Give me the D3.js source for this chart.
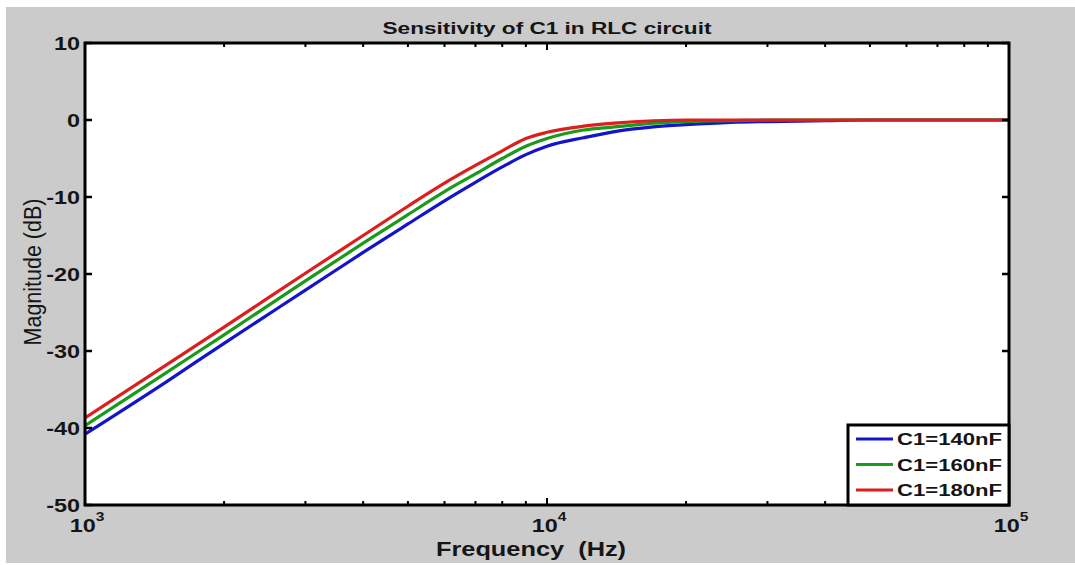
<!DOCTYPE html>
<html><head><meta charset="utf-8">
<script src="https://cdn.jsdelivr.net/npm/d3@7/dist/d3.min.js"></script>
<style>body{margin:0;background:#fff}svg{display:block}</style>
</head><body>
<svg id="c" width="1075" height="565"></svg>
<script>
const freqs = [1000,1500,2000,3000,4000,5000,6000,7000,8000,9000,10000,12000,14000,17000,20000,25000,30000,40000,50000,70000,100000];
const c140 = [-40.8,-34.0,-29.0,-22.1,-17.2,-13.5,-10.5,-8.1,-6.1,-4.5,-3.4,-2.3,-1.5,-0.9,-0.6,-0.3,-0.2,-0.1,0,0,0];
const c160 = [-39.7,-32.8,-27.9,-20.9,-16.0,-12.3,-9.3,-7.0,-5.0,-3.4,-2.4,-1.3,-0.9,-0.4,-0.2,-0.1,0,0,0,0,0];
const c180 = [-38.7,-31.8,-26.9,-19.9,-15.0,-11.2,-8.2,-5.9,-4.0,-2.4,-1.6,-0.8,-0.4,-0.1,0,0,0,0,0,0,0];
const seriesNames = ["C1=140nF","C1=160nF","C1=180nF"];
const seriesColors = ["#1414c8","#1a9a1a","#dc1e1e"];
const yTicks = [10,0,-10,-20,-30,-40,-50];
const xMajor = [3,4,5];
const title = "Sensitivity of C1 in RLC circuit";
const xLabel = "Frequency  (Hz)";
const yLabel = "Magnitude (dB)";

const svg = d3.select("#c");
const L=85,R=1009,T=43,B=505;
const SX=1.3;
const font = "'Liberation Sans', Arial, sans-serif";
svg.append("rect").attr("x",6).attr("y",7).attr("width",1069).attr("height",556).attr("fill","#cbcbcb");
svg.append("rect").attr("x",L).attr("y",T).attr("width",R-L).attr("height",B-T).attr("fill","#fff");

const x = d3.scaleLog().domain([1e3,1e5]).range([L,R]);
const y = d3.scaleLinear().domain([-50,10]).range([B,T]);

function txt(px,py,size,anchor,bold,extra,sx){
  return svg.append("text").attr("transform",`translate(${px},${py}) scale(${sx||SX},1)${extra||""}`)
    .attr("text-anchor",anchor).attr("font-family",font).attr("font-weight",bold?"bold":"normal")
    .attr("font-size",size).attr("fill","#151515");
}

const series = [c140,c160,c180];
const line = d3.line().x((d,i)=>x(freqs[i])).y(d=>y(d)).curve(d3.curveMonotoneX);
const g = svg.append("g");
g.append("clipPath").attr("id","clp").append("rect").attr("x",L).attr("y",T).attr("width",R-L).attr("height",B-T);
series.forEach((s,k)=>{
  g.append("path").datum(s).attr("d",line).attr("fill","none").attr("stroke",seriesColors[k]).attr("stroke-width",3.2).attr("clip-path","url(#clp)");
});

// ticks
const minor = [];
for (let e=3;e<5;e++) for (let m=2;m<=9;m++) minor.push(m*Math.pow(10,e));
const tk = svg.append("g").attr("stroke","#000");
minor.forEach(f=>{
  tk.append("line").attr("x1",x(f)).attr("x2",x(f)).attr("y1",B).attr("y2",B-4).attr("stroke-width",2);
  tk.append("line").attr("x1",x(f)).attr("x2",x(f)).attr("y1",T).attr("y2",T+4).attr("stroke-width",2);
});
xMajor.forEach(e=>{
  const f=Math.pow(10,e);
  tk.append("line").attr("x1",x(f)).attr("x2",x(f)).attr("y1",B).attr("y2",B-7).attr("stroke-width",2);
  tk.append("line").attr("x1",x(f)).attr("x2",x(f)).attr("y1",T).attr("y2",T+7).attr("stroke-width",2);
});
yTicks.forEach(v=>{
  tk.append("line").attr("x1",L).attr("x2",L+7).attr("y1",y(v)).attr("y2",y(v)).attr("stroke-width",2.5);
  tk.append("line").attr("x1",R).attr("x2",R-7).attr("y1",y(v)).attr("y2",y(v)).attr("stroke-width",2.5);
});
svg.append("rect").attr("x",L).attr("y",T).attr("width",R-L).attr("height",B-T).attr("fill","none").attr("stroke","#000").attr("stroke-width",3);

// y tick labels
yTicks.forEach(v=>{ txt(L-5,y(v)+6.5,18,"end",true).text(v); });
// x tick labels
xMajor.forEach(e=>{
  const t = txt(x(Math.pow(10,e))+2,532,18,"middle",true);
  t.append("tspan").text("10");
  t.append("tspan").attr("dy",-11).attr("font-size",12).text(e);
});
txt((L+R)/2,34,17.4,"middle",true).text(title);
txt(531,556,19.5,"middle",true).style("white-space","pre").text(xLabel);
txt(41,272,21.5,"middle",false," rotate(-90)",1.15).text(yLabel);

// legend
const lg = svg.append("g");
lg.append("rect").attr("x",848).attr("y",425).attr("width",R-848).attr("height",B-425).attr("fill","#fff").attr("stroke","#000").attr("stroke-width",3);
seriesNames.forEach((n,k)=>{
  const yy = 439 + k*25.5;
  lg.append("line").attr("x1",856).attr("x2",893).attr("y1",yy).attr("y2",yy).attr("stroke",seriesColors[k]).attr("stroke-width",3.2);
  txt(897,yy+6,17,"start",true).text(n);
});
</script>
</body></html>
